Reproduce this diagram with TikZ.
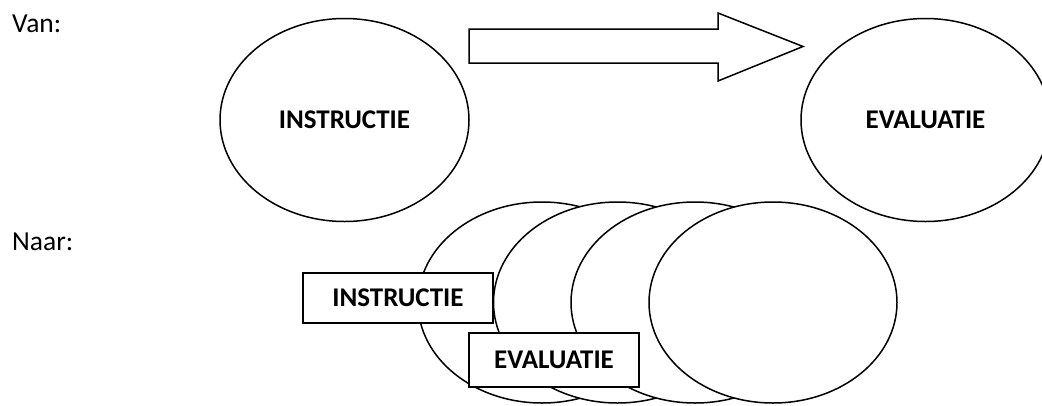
\documentclass[tikz,border=0pt]{standalone}
\usepackage{fontspec}
\setmainfont{Carlito}
\usetikzlibrary{shapes.geometric}
\begin{document}
\begin{tikzpicture}[x=1pt,y=-1pt,
  every node/.style={font=\fontsize{27.5}{31}\selectfont},
  bigoval/.style={ellipse,draw,line width=1.5pt,fill=white,inner sep=0pt,
     minimum width=249pt,minimum height=203pt,font=\fontsize{27}{31}\selectfont\bfseries},
  lowoval/.style={ellipse,draw,line width=1.5pt,fill=white,inner sep=0pt,
     minimum width=248pt,minimum height=201pt},
  labelbox/.style={rectangle,draw,line width=1.5pt,fill=white,inner sep=0pt,
     font=\fontsize{27}{31}\selectfont\bfseries},
  lbl/.style={anchor=base west,inner sep=0pt}]
\useasboundingbox (0,0) rectangle (1042,405);
\clip (0,0) rectangle (1042,405);
% labels
\node[lbl] (van) at (12,32) {Van:};
\node[lbl] (naar) at (12,250) {Naar:};
% top row
\node[bigoval] (instr) at (344.5,120) {INSTRUCTIE};
\node[bigoval] (eval) at (925.5,120) {EVALUATIE};
% block arrow
\draw[line width=1.5pt,line join=miter,fill=white]
  (469,29) -- (718,29) -- (718,13) -- (803,46.5) -- (718,81) -- (718,63) -- (469,63) -- cycle;
% bottom row
\node[lowoval] (o1) at (542,302.5) {};
\node[lowoval] (o2) at (617.5,302.5) {};
\node[lowoval] (o3) at (695,302.5) {};
\node[lowoval] (o4) at (773,302.5) {};
\node[labelbox,minimum width=190pt,minimum height=50pt] (bi) at (398,298) {INSTRUCTIE};
\node[labelbox,minimum width=170pt,minimum height=54pt] (be) at (554,360) {EVALUATIE};
\end{tikzpicture}
\end{document}
